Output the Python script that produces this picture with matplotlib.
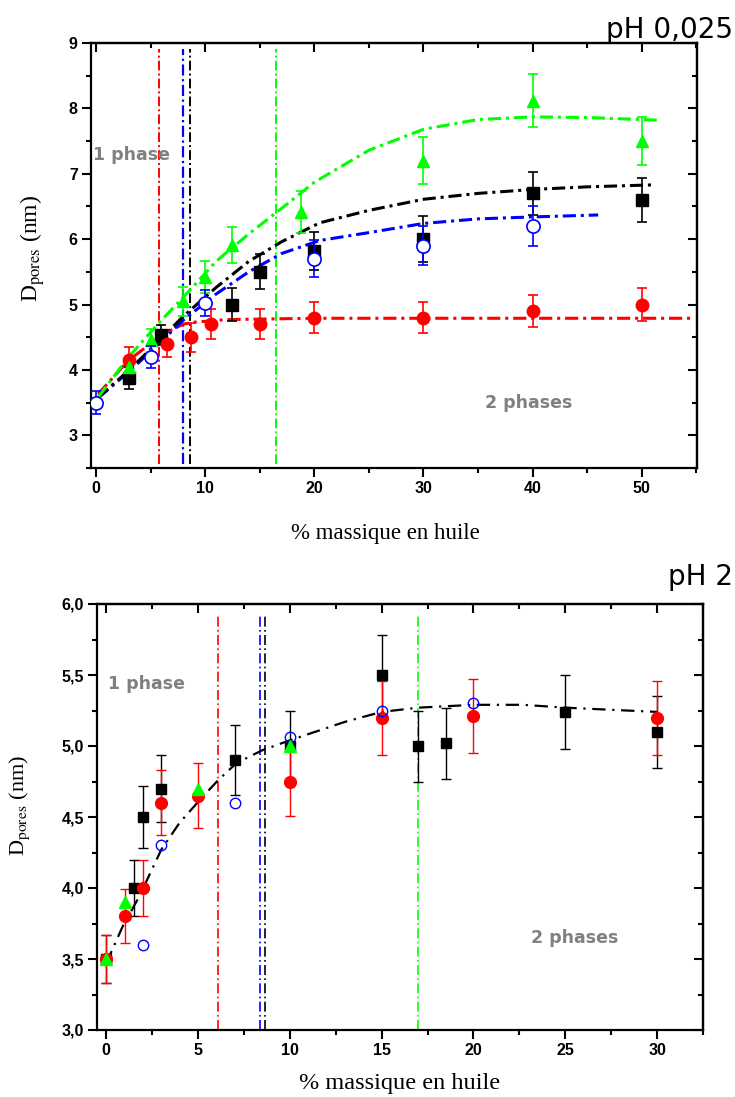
import numpy as np
import matplotlib
matplotlib.use('Agg')
import matplotlib.pyplot as plt
from matplotlib.ticker import MultipleLocator, FuncFormatter

plt.rcParams['mathtext.fontset'] = 'stix'

# ---------- donnees pH 0,025 ----------
noir_x = [3, 6, 12.5, 15, 20, 30, 40, 50]
noir_y = [3.88, 4.53, 5.0, 5.5, 5.82, 6.0, 6.7, 6.6]
noir_err = [0.17, 0.15, 0.25, 0.27, 0.29, 0.35, 0.33, 0.33]

rouge_x = [3, 6.5, 8.7, 10.5, 15, 20, 30, 40, 50]
rouge_y = [4.15, 4.4, 4.5, 4.7, 4.7, 4.8, 4.8, 4.9, 5.0]
rouge_err = [0.2, 0.2, 0.22, 0.23, 0.23, 0.24, 0.24, 0.24, 0.25]

bleu_x = [0, 5, 10, 20, 30, 40]
bleu_y = [3.5, 4.2, 5.02, 5.7, 5.9, 6.2]
bleu_err = [0.17, 0.17, 0.2, 0.28, 0.3, 0.3]

vert_x = [3, 5, 8, 10, 12.5, 18.75, 30, 40, 50]
vert_y = [4.05, 4.45, 5.05, 5.42, 5.91, 6.42, 7.2, 8.12, 7.5]
vert_err = [0.15, 0.18, 0.22, 0.25, 0.28, 0.32, 0.36, 0.4, 0.37]

# courbes d'ajustement
fit_vert_x = [0.2, 3, 6, 8.5, 11, 14, 17, 20, 25, 30, 35, 40, 45, 51.5]
fit_vert_y = [3.58, 4.2, 4.76, 5.2, 5.66, 6.08, 6.47, 6.87, 7.36, 7.68, 7.83, 7.87, 7.86, 7.82]
fit_noir_x = [0.2, 3, 5.5, 8, 11, 14, 17, 20.5, 25, 30, 35, 40, 45, 51]
fit_noir_y = [3.58, 3.99, 4.4, 4.82, 5.26, 5.66, 5.96, 6.25, 6.44, 6.61, 6.7, 6.76, 6.8, 6.83]
fit_bleu_x = [0.2, 3, 5.5, 8, 11, 14, 17, 20.5, 25, 30, 35, 40, 46]
fit_bleu_y = [3.57, 3.97, 4.36, 4.76, 5.16, 5.5, 5.78, 5.98, 6.1, 6.24, 6.31, 6.34, 6.37]
fit_rouge_x = [0.2, 3, 6.3, 8, 9, 12, 20, 30, 40, 54.5]
fit_rouge_y = [3.63, 4.15, 4.56, 4.7, 4.73, 4.77, 4.79, 4.79, 4.79, 4.79]

limites_1 = {'red': 5.8, 'blue': 7.95, 'black': 8.65, '#00ff00': 16.45}

# ---------- donnees pH 2 ----------
noir2_x = [0, 1.5, 2, 3, 7, 10, 15, 17, 18.5, 25, 30]
noir2_y = [3.5, 4.0, 4.5, 4.7, 4.9, 5.0, 5.5, 5.0, 5.02, 5.24, 5.1]
noir2_err = [0.17, 0.2, 0.22, 0.235, 0.245, 0.25, 0.28, 0.25, 0.25, 0.26, 0.255]

rouge2_x = [0, 1, 2, 3, 5, 10, 15, 20, 30]
rouge2_y = [3.5, 3.8, 4.0, 4.6, 4.65, 4.75, 5.2, 5.21, 5.2]
rouge2_err = [0.17, 0.19, 0.2, 0.23, 0.23, 0.24, 0.26, 0.26, 0.26]

bleu2_x = [2, 3, 7, 10, 15, 20]
bleu2_y = [3.6, 4.3, 4.6, 5.06, 5.25, 5.3]

vert2_x = [0, 1, 5, 10]
vert2_y = [3.5, 3.9, 4.7, 5.0]

fit2_x = [0, 0.9, 1.8, 3, 4, 5.1, 6.1, 7.1, 8.5, 10, 13, 15, 17, 20, 22.7, 25, 30]
fit2_y = [3.47, 3.73, 3.94, 4.27, 4.46, 4.62, 4.76, 4.88, 4.97, 5.04, 5.17, 5.24, 5.27, 5.29, 5.29, 5.27, 5.24]

limites_2 = {'red': 6.07, 'blue': 8.36, 'black': 8.67, '#00ff00': 17.0}

VERT = '#00ff00'
tick_font = {'family': 'Liberation Sans', 'weight': 'bold', 'size': 11.5}


def habiller(ax, xmaj, xmin, ymaj, ymin, fmt=None):
    for s in ax.spines.values():
        s.set_linewidth(1.6)
    ax.xaxis.set_major_locator(MultipleLocator(xmaj))
    ax.xaxis.set_minor_locator(MultipleLocator(xmin))
    ax.yaxis.set_major_locator(MultipleLocator(ymaj))
    ax.yaxis.set_minor_locator(MultipleLocator(ymin))
    if fmt is not None:
        ax.yaxis.set_major_formatter(fmt)
    ax.tick_params(which='major', direction='out', length=6.5, width=1.5, pad=3)
    ax.tick_params(which='minor', direction='out', length=3.4, width=1.5)
    for lab in ax.get_xticklabels() + ax.get_yticklabels():
        lab.set_fontproperties(matplotlib.font_manager.FontProperties(**tick_font))
    # ticks interieurs en haut et a droite
    top = ax.secondary_xaxis('top')
    top.xaxis.set_major_locator(MultipleLocator(xmaj))
    top.xaxis.set_minor_locator(MultipleLocator(xmin))
    top.tick_params(which='major', direction='in', length=6.5, width=1.5, labeltop=False)
    top.tick_params(which='minor', direction='in', length=3.4, width=1.5)
    top.spines['top'].set_linewidth(1.6)
    right = ax.secondary_yaxis('right')
    right.yaxis.set_major_locator(MultipleLocator(ymaj))
    right.yaxis.set_minor_locator(MultipleLocator(ymin))
    right.tick_params(which='major', direction='in', length=6.5, width=1.5, labelright=False)
    right.tick_params(which='minor', direction='in', length=3.4, width=1.5)
    right.spines['right'].set_linewidth(1.6)


fig = plt.figure(figsize=(7.35, 10.97), dpi=100)

# ================= pH 0,025 =================
ax1 = fig.add_axes([91 / 735, 1 - 468 / 1097, 606 / 735, 425 / 1097])
ax1.set_xlim(-0.45, 55.05)
ax1.set_ylim(2.5, 9)

for c, xv in limites_1.items():
    ax1.axvline(xv, ymin=0.01, ymax=0.985, color=c, lw=1.6 if c == 'blue' else 1.4,
                linestyle=(0, (5, 1.6, 1, 1.6)), zorder=1)

dd = (0, (4.3, 1.6, 1.0, 1.6))
ax1.plot(fit_rouge_x, fit_rouge_y, color='red', lw=2.2, linestyle=dd, zorder=2)
ax1.plot(fit_bleu_x, fit_bleu_y, color='blue', lw=2.2, linestyle=dd, zorder=2)
ax1.plot(fit_noir_x, fit_noir_y, color='black', lw=2.2, linestyle=dd, zorder=2)
ax1.plot(fit_vert_x, fit_vert_y, color=VERT, lw=2.2, linestyle=dd, zorder=2)

eb = dict(elinewidth=1.2, capsize=3.3, capthick=1.2, linestyle='none')
ax1.errorbar(noir_x, noir_y, yerr=noir_err, fmt='s', color='black', ms=8, zorder=4, **eb)
ax1.errorbar(rouge_x, rouge_y, yerr=rouge_err, fmt='o', color='red', ms=9, zorder=4, **eb)
ax1.errorbar(bleu_x, bleu_y, yerr=bleu_err, fmt='o', color='blue', mfc='white',
             mew=1.2, ms=9.5, zorder=5, **eb)
ax1.errorbar(vert_x, vert_y, yerr=vert_err, fmt='^', color=VERT, ms=9, zorder=4, **eb)

habiller(ax1, 10, 5, 1, 0.5)

ax1.text(-0.3, 7.28, '1 phase', color='#808080', fontsize=12.5, fontweight='bold',
         ha='left', va='center', zorder=6)
ax1.text(39.6, 3.49, '2 phases', color='#808080', fontsize=12.5, fontweight='bold',
         ha='center', va='center', zorder=6)

fig.text(385 / 735, 1 - 533 / 1097, '% massique en huile', family='Liberation Serif',
         fontsize=16.5, ha='center', va='center')
fig.text(33 / 735, 1 - 248 / 1097, r'D$_{\mathrm{pores}}$ (nm)', family='Liberation Serif',
         fontsize=17, rotation=90, ha='center', va='center')
fig.text(733 / 735, 1 - 38 / 1097, 'pH 0,025', family='DejaVu Sans', fontsize=20,
         ha='right', va='baseline')

# ================= pH 2 =================
ax2 = fig.add_axes([97 / 735, 1 - 1030 / 1097, 606 / 735, 426 / 1097])
ax2.set_xlim(-0.5, 32.5)
ax2.set_ylim(3.0, 6.0)

for c, xv in limites_2.items():
    ax2.axvline(xv, ymin=0.0, ymax=0.975, color=c, lw=1.2,
                linestyle=(0, (6, 2, 1, 2)), zorder=1)

ax2.plot(fit2_x, fit2_y, color='black', lw=1.6, linestyle=(0, (6, 3, 1, 3)), zorder=2)

eb2 = dict(elinewidth=1.0, capsize=3.3, capthick=1.0, linestyle='none')
ax2.errorbar(noir2_x, noir2_y, yerr=noir2_err, fmt='s', color='black', ms=7.5, zorder=4, **eb2)
ax2.errorbar(rouge2_x, rouge2_y, yerr=rouge2_err, fmt='o', color='red', ms=8.5, zorder=4, **eb2)
ax2.plot(bleu2_x, bleu2_y, 'o', color='blue', mfc='none', mew=1.0, ms=7.5, zorder=5)
ax2.plot(vert2_x, vert2_y, '^', color=VERT, ms=8.5, zorder=5, linestyle='none')

habiller(ax2, 5, 2.5, 0.5, 0.25,
         fmt=FuncFormatter(lambda v, p: f'{v:.1f}'.replace('.', ',')))

ax2.text(0.1, 5.44, '1 phase', color='#808080', fontsize=12.5, fontweight='bold',
         ha='left', va='center', zorder=6)
ax2.text(25.5, 3.65, '2 phases', color='#808080', fontsize=12.5, fontweight='bold',
         ha='center', va='center', zorder=6)

fig.text(400 / 735, 1 - 1083 / 1097, '% massique en huile', family='Liberation Serif',
         fontsize=17.5, ha='center', va='center')
fig.text(20 / 735, 1 - 805 / 1097, r'D$_{\mathrm{pores}}$ (nm)', family='Liberation Serif',
         fontsize=16, rotation=90, ha='center', va='center')
fig.text(733 / 735, 1 - 585 / 1097, 'pH 2', family='DejaVu Sans', fontsize=20,
         ha='right', va='baseline')

fig.savefig('out.png', dpi=100, facecolor='white')
